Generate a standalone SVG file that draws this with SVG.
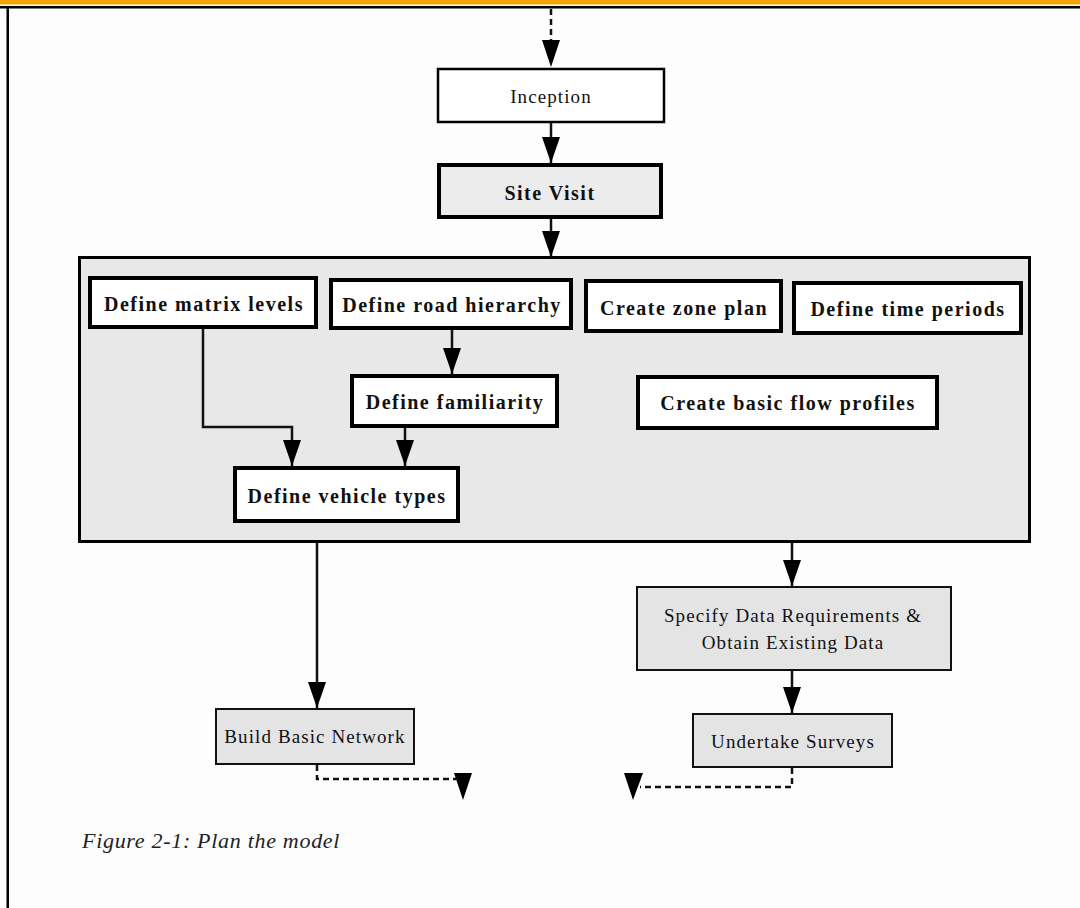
<svg xmlns="http://www.w3.org/2000/svg" width="1080" height="908" viewBox="0 0 1080 908">
<style>
.bold{font-family:"Liberation Serif",serif;font-weight:bold;font-size:20px;letter-spacing:1.5px;fill:#111}
.reg{font-family:"Liberation Serif",serif;font-size:19px;letter-spacing:1.1px;fill:#111}
.thick{fill:#fff;stroke:#000;stroke-width:4}
.thin{fill:#e4e4e4;stroke:#111;stroke-width:2}
.conn{fill:none;stroke:#111;stroke-width:2.5}
.dash{fill:none;stroke:#111;stroke-width:2.5;stroke-dasharray:6 4}
.head{fill:#000}
</style>
<defs>
<marker id="arr" markerUnits="userSpaceOnUse" markerWidth="26" markerHeight="18" refX="26" refY="9" orient="auto">
<path d="M0,0 L26,9 L0,18 z" fill="#000"/>
</marker>
</defs>
<rect x="0" y="0" width="1080" height="908" fill="#fdfdfd"/>
<rect x="0" y="0" width="1080" height="4.5" fill="#f5a40a"/>
<rect x="0" y="6" width="1080" height="2.5" fill="#000"/>
<rect x="6.5" y="6" width="2.5" height="902" fill="#000"/>

<g id="container">
<rect x="79.5" y="257.5" width="950" height="284" fill="#e8e8e8" stroke="#000" stroke-width="3"/>
</g>

<g id="inception">
<rect x="438" y="69" width="226" height="53" fill="#fff" stroke="#000" stroke-width="2.5"/>
<text class="reg" x="551" y="103" text-anchor="middle" font-size="21" letter-spacing="1.5">Inception</text>
</g>
<g id="site-visit">
<rect x="439" y="165" width="222" height="52" fill="#ececec" stroke="#000" stroke-width="4"/>
<text class="bold" x="550" y="200" text-anchor="middle" font-size="20" letter-spacing="1.5">Site Visit</text>
</g>
<g id="matrix-levels">
<rect class="thick" x="90" y="278" width="226" height="49"/>
<text class="bold" x="204" y="311" text-anchor="middle">Define matrix levels</text>
</g>
<g id="road-hierarchy">
<rect class="thick" x="331" y="280" width="240" height="48"/>
<text class="bold" x="452" y="312" text-anchor="middle">Define road hierarchy</text>
</g>
<g id="zone-plan">
<rect class="thick" x="586" y="281" width="195" height="50"/>
<text class="bold" x="684" y="315" text-anchor="middle">Create zone plan</text>
</g>
<g id="time-periods">
<rect class="thick" x="794" y="283" width="227" height="50"/>
<text class="bold" x="908" y="316" text-anchor="middle">Define time periods</text>
</g>
<g id="familiarity">
<rect class="thick" x="352" y="376" width="205" height="50"/>
<text class="bold" x="455" y="409" text-anchor="middle">Define familiarity</text>
</g>
<g id="flow-profiles">
<rect class="thick" x="638" y="377" width="299" height="51"/>
<text class="bold" x="788" y="410" text-anchor="middle">Create basic flow profiles</text>
</g>
<g id="vehicle-types">
<rect class="thick" x="235" y="468" width="223" height="53"/>
<text class="bold" x="347" y="503" text-anchor="middle">Define vehicle types</text>
</g>
<g id="build-network">
<rect class="thin" x="216" y="709" width="198" height="55"/>
<text class="reg" x="315" y="743" text-anchor="middle" letter-spacing="0.9">Build Basic Network</text>
</g>
<g id="specify-data">
<rect class="thin" x="637" y="587" width="314" height="83"/>
<text class="reg" x="793" y="622" text-anchor="middle">Specify Data Requirements &amp;</text>
<text class="reg" x="793" y="649" text-anchor="middle">Obtain Existing Data</text>
</g>
<g id="undertake-surveys">
<rect class="thin" x="693" y="714" width="199" height="53"/>
<text class="reg" x="793" y="748" text-anchor="middle">Undertake Surveys</text>
</g>

<g id="connectors">
<path class="dash" d="M551,9 V42"/>
<polygon class="head" points="542,40 560,40 551,67"/>
<path class="conn" d="M551,123 V163" marker-end="url(#arr)"/>
<path class="conn" d="M551,219 V257" marker-end="url(#arr)"/>
<path class="conn" d="M452,330 V374" marker-end="url(#arr)"/>
<path class="conn" d="M203,329 V427 H292 V466" marker-end="url(#arr)"/>
<path class="conn" d="M405,428 V466" marker-end="url(#arr)"/>
<path class="conn" d="M317,543 V708" marker-end="url(#arr)"/>
<path class="conn" d="M792,543 V586" marker-end="url(#arr)"/>
<path class="conn" d="M792,671 V713" marker-end="url(#arr)"/>
<path class="dash" d="M317,765 V779 H456"/>
<polygon class="head" points="454,773 472,773 463,800"/>
<path class="dash" d="M792,768 V787 H640"/>
<polygon class="head" points="624,773 643,773 633,800"/>
</g>

<text x="82" y="848" font-family="Liberation Serif, serif" font-style="italic" font-size="22" letter-spacing="0.7" fill="#222">Figure 2-1: Plan the model</text>
</svg>
